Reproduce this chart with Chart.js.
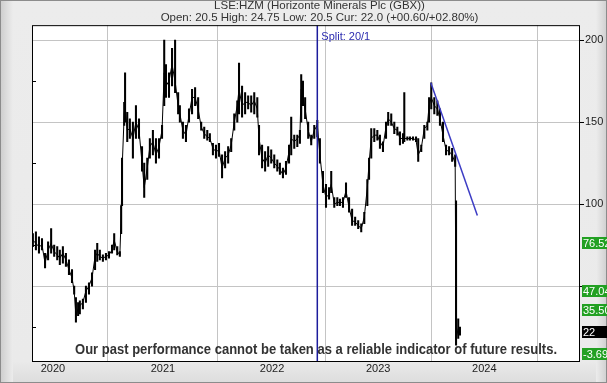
<!DOCTYPE html>
<html><head><meta charset="utf-8">
<script src="https://cdn.jsdelivr.net/npm/chart.js@4.4.0/dist/chart.umd.min.js"></script>
<style>
html,body{margin:0;padding:0;background:#fff;}
#bg{position:absolute;left:0;top:0;width:607px;height:383px;box-sizing:border-box;border:1px solid #8c8c8c;
background:linear-gradient(to bottom,#ececec 0px,#eaeaea 360px,#dcdcdc 383px);}
#bg:before{content:"";position:absolute;left:0;top:0;width:12px;height:100%;background:linear-gradient(to right,#cfcfcf,#ececec);}
#bg:after{content:"";position:absolute;right:0;top:0;width:10px;height:100%;background:linear-gradient(to right,#ececec,#d2d2d2);}
canvas{position:absolute;left:0;top:0;}
</style></head><body>
<div id="bg"></div>
<canvas id="c" width="607" height="383"></canvas>
<script>
// ---- data (trading-day index, low / high / close of each sampled bar) ----
const days = [2,9,16,23,30,37,44,51,58,64,71,78,85,92,97,101,106,110,117,124,131,138,145,150,156,163,170,177,184,189,196,202,205,207,212,214,219,225,232,239,246,253,258,265,271,278,285,292,299,304,308,315,322,329,336,340,347,354,361,368,375,382,389,396,403,409,416,423,430,437,444,451,458,465,472,476,483,490,497,504,511,518,522,529,536,543,550,557,564,570,577,584,591,596,603,610,616,619,623,628,635,642,649,656,662,669,676,683,688,695,702,708,715,722,729,736,743,750,757,764,771,775,780,787,794,800,807,814,819,826,833,840,846,853,856,863,869,876,883,888,895,902,909,913,918,925,932,938,945,952,959,966,973,975,980,984];
const lows = [74,72,70,72,61,66,70,68,66,63,64,62,57,52,45,28,32,33,36,40,45,50,60,65,66,65,66,67,70,72,69,68,82,99,148,150,138,140,128,140,140,120,104,115,128,130,125,128,140,160,165,165,172,168,155,150,140,138,150,155,160,152,145,140,139,138,130,128,129,116,122,125,132,145,150,155,153,155,158,156,155,153,130,122,120,123,125,122,120,118,116,118,125,130,134,135,137,150,160,152,140,136,140,141,125,107,98,103,107,98,99,99,98,104,95,87,87,85,83,88,99,115,128,138,139,134,132,140,148,148,143,142,136,137,138,139,139,139,138,126,132,140,145,150,158,155,154,148,138,130,130,126,123,14,18,20];
const highs = [82,83,80,79,70,77,85,75,74,72,74,70,66,60,50,43,40,41,42,50,52,58,72,76,72,69,70,71,75,82,74,71,99,128,162,180,156,152,150,160,152,135,125,128,140,145,140,140,148,200,185,180,195,200,168,160,150,148,158,170,171,165,150,147,145,143,137,136,137,130,132,135,140,155,163,186,172,168,166,166,168,165,148,136,132,135,133,130,127,125,122,126,136,153,142,142,145,179,175,165,150,142,148,151,140,120,112,110,120,104,104,103,104,113,104,97,92,90,88,95,115,128,146,146,145,142,138,150,156,155,150,147,144,143,168,141,141,141,141,140,136,148,150,165,174,165,163,158,150,136,135,134,130,102,30,25];
const closes = [78,76,74,75,64,72,76,71,69,67,70,66,60,55,47,32,36,38,40,47,50,55,68,70,68,67,68,69,72,78,71,69,
  92,120,155,160,145,146,140,150,145,125,110,122,135,138,130,135,145,
  180,172,175,185,175,160,155,145,142,154,165,165,158,147,143,141,140,134,132,133,122,128,130,136,150,160,170,160,162,162,160,163,158,
  140,128,125,130,128,125,123,121,118,122,132,140,138,140,142,170,165,158,145,138,145,148,
  130,112,104,106,112,100,101,101,101,108,98,90,89,87,85,92,110,125,140,142,142,138,135,147,152,150,146,145,140,140,140,
  140,140,140,139,130,134,146,148,160,165,160,158,152,142,133,132,130,125,18,24,22];

const yearDays = [48,301,552,796,1040];
const yearLabels = ['2020','2021','2022','2023','2024'];
const xMax = 1260;
const yMin = 4.3, yMax = 209.1;
const yGridValues = [50,100,150,200];
const yLabelValues = [100,150,200];
const yMinorValues = [25,75,125,175];
const splitDay = 656;
const splitText = 'Split: 20/1';
const trendDays = [917,1024];
const trendValues = [174,93];
const levelValues = [76.52,47.04,35.50,22,-3.69];
const levelTexts = ['76.52','47.04','35.50','22','-3.69'];
const levelColors = ['#22a022','#22a022','#22a022','#000000','#22a022'];
const titleLines = ['LSE:HZM (Horizonte Minerals Plc (GBX))','Open: 20.5 High: 24.75 Low: 20.5 Cur: 22.0 (+00.60/+02.80%)'];
const disclaimer = 'Our past performance cannot be taken as a reliable indicator of future results.';

const FONT = "'Liberation Sans', Arial, sans-serif";

const plotBg = {
  id:'plotBg',
  beforeDraw(chart){
    const {ctx, chartArea:a} = chart;
    ctx.save(); ctx.fillStyle='#fff'; ctx.fillRect(a.left,a.top,a.right-a.left,a.bottom-a.top); ctx.restore();
  }
};
const overlay = {
  id:'overlay',
  afterDraw(chart){
    const {ctx, chartArea:a, scales} = chart;
    const ys = scales.y, xs = scales.x;
    ctx.save();
    ctx.strokeStyle='#000'; ctx.lineWidth=1;
    yMinorValues.forEach(v=>{ const y=Math.round(ys.getPixelForValue(v))+0.5; ctx.beginPath(); ctx.moveTo(a.left,y); ctx.lineTo(a.left+4,y); ctx.stroke(); });
    ctx.strokeStyle='#000'; ctx.strokeRect(a.left+0.5,a.top+0.5,a.right-a.left-1,a.bottom-a.top);
    ctx.fillStyle='#2b2bb0'; ctx.font='11px '+FONT; ctx.textBaseline='middle'; ctx.textAlign='left';
    ctx.fillText(splitText, xs.getPixelForValue(splitDay)+4, a.top+12);
    ctx.font='bold 15px '+FONT; ctx.fillStyle='#333';
    const w = ctx.measureText(disclaimer).width, target=482;
    ctx.save(); ctx.translate(316, a.bottom-11); ctx.scale(target/w,1); ctx.textAlign='center'; ctx.fillText(disclaimer,0,0); ctx.restore();
    ctx.font='11px '+FONT; ctx.textAlign='left';
    levelValues.forEach((v,i)=>{
      let y = ys.getPixelForValue(v);
      y = Math.max(a.top+6, Math.min(a.bottom-7, y));
      ctx.fillStyle=levelColors[i]; ctx.fillRect(a.right+2, Math.round(y-6), 30, 12);
      ctx.fillStyle='#fff'; ctx.fillText(levelTexts[i], a.right+3, Math.round(y)+0.5);
    });
    ctx.restore();
  }
};

new Chart(document.getElementById('c'), {
  type:'bar',
  data:{datasets:[
    {type:'line', data: trendDays.map((d,i)=>({x:d,y:trendValues[i]})), borderColor:'#3d3dc4', borderWidth:1.5, pointRadius:0, order:0},
    {type:'line', data:[{x:splitDay,y:yMin},{x:splitDay,y:yMax}], borderColor:'#1c1c9c', borderWidth:1.5, pointRadius:0, order:1},
    {type:'line', data: days.map((d,i)=>({x:d,y:closes[i]})), borderColor:'#000', borderWidth:1, pointRadius:0, order:2},
    {type:'bar', data: days.map((d,i)=>({x:d,y:[lows[i],highs[i]]})), backgroundColor:'#000', borderWidth:0, barThickness:1.4, order:3}
  ]},
  options:{
    responsive:false, animation:false, devicePixelRatio:1,
    layout:{padding:{left:32,right:0,top:0,bottom:0}},
    plugins:{
      legend:{display:false}, tooltip:{enabled:false},
      title:{display:true, text:titleLines, color:'#333', font:{family:FONT,size:11.5,weight:'normal',lineHeight:1.05}, padding:{top:0,bottom:1}}
    },
    scales:{
      x:{type:'linear', min:0, max:xMax, offset:false,
        afterBuildTicks:s=>{ s.ticks = yearDays.map(v=>({value:v})); },
        afterFit:s=>{ s.height=22; },
        ticks:{autoSkip:false, maxRotation:0, padding:1, color:'#222', font:{family:FONT,size:11},
          callback:v=>{ const k=yearDays.indexOf(v); return k>=0?yearLabels[k]:''; }},
        grid:{color:'#c4c4c4', drawTicks:false}, border:{display:false}},
      y:{position:'right', min:yMin, max:yMax,
        afterBuildTicks:s=>{ s.ticks = yGridValues.map(v=>({value:v})); },
        afterFit:s=>{ s.width=27; },
        ticks:{padding:1, color:'#222', font:{family:FONT,size:11},
          callback:v=> yLabelValues.includes(v)?String(v):''},
        grid:{color:'#c4c4c4', tickLength:4, tickColor:'#000'}, border:{display:false}}
    }
  },
  plugins:[plotBg, overlay]
});
</script>
</body></html>
